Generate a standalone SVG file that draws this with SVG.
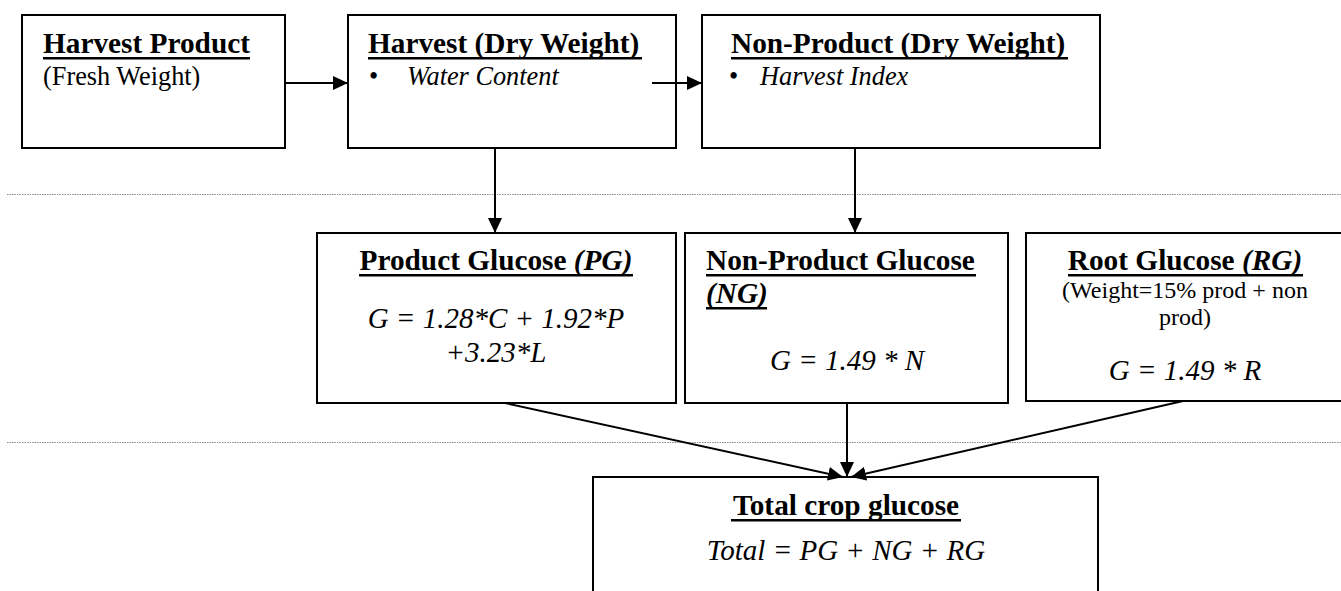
<svg xmlns="http://www.w3.org/2000/svg" width="1341" height="591" viewBox="0 0 1341 591">
<style>
  .box { fill: #fff; stroke: #000; stroke-width: 2; }
  .conn { stroke: #000; stroke-width: 2; fill: none; }
  .sep { stroke: #8c8c8c; stroke-width: 1; stroke-dasharray: 1.5 1; }
  .ul { fill: #000; }
  text { font-family: "Liberation Serif", "Times New Roman", serif; fill: #000; }
  .h { font-size: 29.3px; font-weight: bold; }
  .b { font-size: 26.3px; }
  .s { font-size: 24px; }
  .f { font-size: 29px; font-style: italic; }
  .i { font-size: 26.3px; font-style: italic; }
  .c { text-anchor: middle; }
</style>
<defs>
  <marker id="ah" markerUnits="userSpaceOnUse" markerWidth="15" markerHeight="14" refX="15" refY="7" orient="auto" viewBox="0 0 15 14">
    <path d="M0,0 L15,7 L0,14 z" fill="#000"/>
  </marker>
</defs>
<rect width="1341" height="591" fill="#fff"/>
<g id="separators">
  <line class="sep" x1="7" y1="194.5" x2="1341" y2="194.5"/>
  <line class="sep" x1="7" y1="442.5" x2="1341" y2="442.5"/>
</g>
<g id="harvest-product">
  <rect class="box" x="22" y="15" width="263" height="133"/>
  <text class="h" x="43" y="53">Harvest Product</text>
  <rect class="ul" x="43" y="57" width="207" height="2.5"/>
  <text class="b" x="43" y="85">(Fresh Weight)</text>
</g>
<g id="harvest-dry">
  <rect class="box" x="348" y="15" width="328" height="133"/>
  <text class="h" x="368" y="53">Harvest (Dry Weight)</text>
  <rect class="ul" x="368" y="57" width="274" height="2.5"/>
  <text class="b" x="369" y="85">•</text>
  <text class="i" x="407" y="85">Water Content</text>
</g>
<g id="non-product-dry">
  <rect class="box" x="702" y="15" width="398" height="133"/>
  <text class="h" x="731" y="53">Non-Product (Dry Weight)</text>
  <rect class="ul" x="731" y="57" width="337" height="2.5"/>
  <text class="b" x="729" y="85">•</text>
  <text class="i" x="760" y="85">Harvest Index</text>
</g>
<g id="product-glucose">
  <rect class="box" x="317" y="233" width="359" height="170"/>
  <text class="h c" x="496" y="270">Product Glucose <tspan font-style="italic">(PG)</tspan></text>
  <rect class="ul" x="359" y="274" width="274" height="2.5"/>
  <text class="f c" x="496" y="328">G = 1.28*C + 1.92*P</text>
  <text class="f c" x="496" y="362">+3.23*L</text>
</g>
<g id="non-product-glucose">
  <rect class="box" x="685" y="233" width="323" height="170"/>
  <text class="h" x="706" y="270">Non-Product Glucose</text>
  <rect class="ul" x="706" y="274" width="270" height="2.5"/>
  <text class="h" x="706" y="303" font-style="italic">(NG)</text>
  <rect class="ul" x="706" y="307" width="61" height="2.5"/>
  <text class="f c" x="847" y="370">G = 1.49 * N</text>
</g>
<g id="root-glucose">
  <rect class="box" x="1026" y="233" width="320" height="168"/>
  <text class="h c" x="1185" y="270">Root Glucose <tspan font-style="italic">(RG)</tspan></text>
  <rect class="ul" x="1068" y="274" width="235" height="2.5"/>
  <text class="s c" x="1185" y="298">(Weight=15% prod + non</text>
  <text class="s c" x="1185" y="325">prod)</text>
  <text class="f c" x="1185" y="380">G = 1.49 * R</text>
</g>
<g id="total-crop-glucose">
  <rect class="box" x="593" y="477" width="505" height="130"/>
  <text class="h c" x="846" y="515">Total crop glucose</text>
  <rect class="ul" x="731" y="519" width="230" height="2.5"/>
  <text class="f c" x="846" y="560">Total = PG + NG + RG</text>
</g>
<g id="connectors">
  <line class="conn" x1="285" y1="83" x2="348" y2="83" marker-end="url(#ah)"/>
  <line class="conn" x1="652" y1="83" x2="702" y2="83" marker-end="url(#ah)"/>
  <line class="conn" x1="495" y1="148" x2="495" y2="233" marker-end="url(#ah)"/>
  <line class="conn" x1="855" y1="148" x2="855" y2="233" marker-end="url(#ah)"/>
  <line class="conn" x1="505" y1="403" x2="843" y2="477" marker-end="url(#ah)"/>
  <line class="conn" x1="847" y1="403" x2="847" y2="477" marker-end="url(#ah)"/>
  <line class="conn" x1="1183" y1="401" x2="851" y2="477" marker-end="url(#ah)"/>
</g>
</svg>
